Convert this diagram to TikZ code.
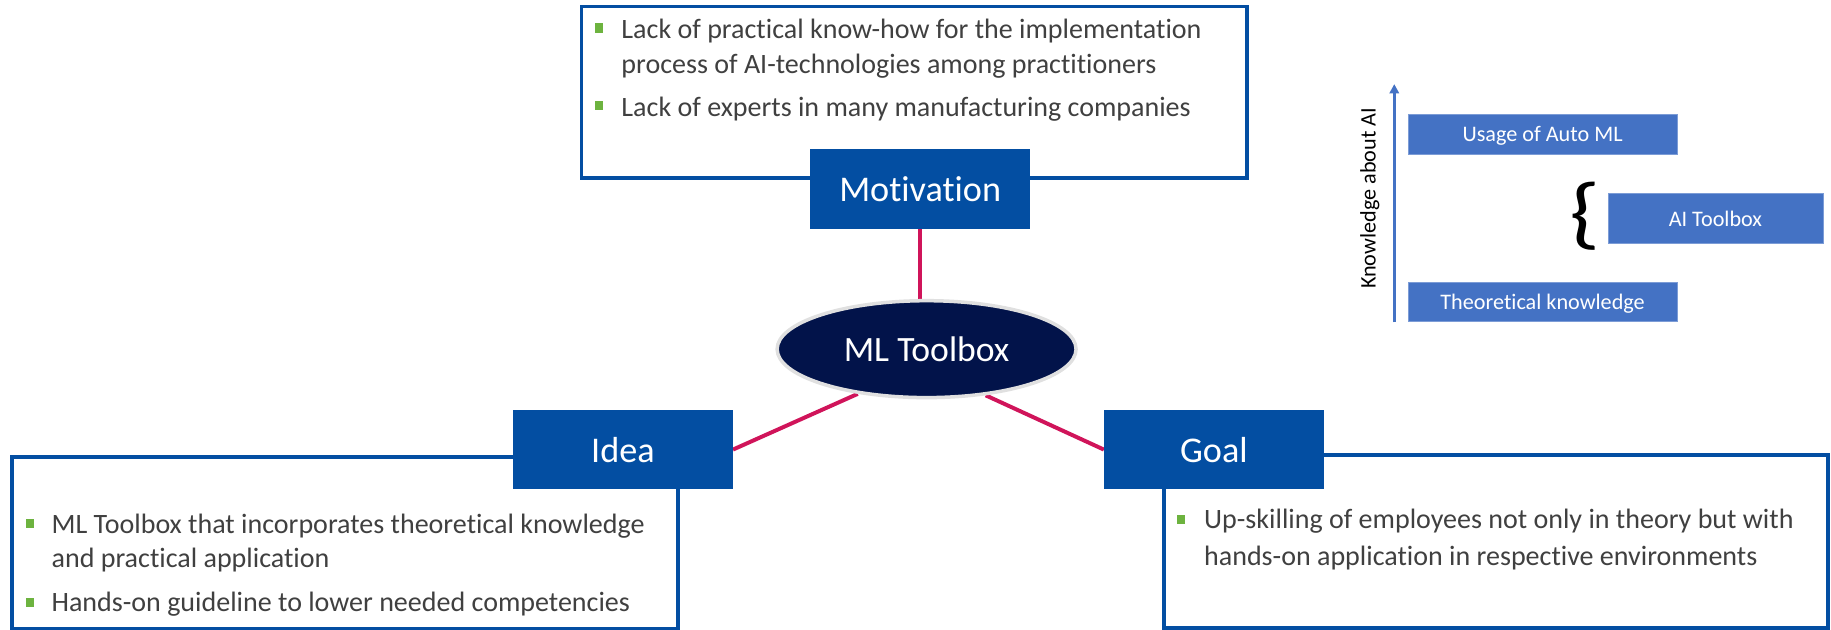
\documentclass[tikz,border=0pt]{standalone}
\usepackage{fontspec}
\usetikzlibrary{shapes.geometric,arrows.meta,backgrounds}
\setmainfont{Carlito}[Ligatures=CommonOff]
\definecolor{navy}{HTML}{034EA2}
\definecolor{deep}{HTML}{02134A}
\definecolor{crim}{HTML}{D0145A}
\definecolor{mid}{HTML}{4472C4}
\definecolor{leaf}{HTML}{6DB33F}
\definecolor{ink}{HTML}{404040}
\tikzset{
  panel/.style={draw=navy,line width=3.2pt,fill=white,inner sep=0pt},
  head/.style={fill=navy,text=white,inner sep=0pt,minimum width=188pt,minimum height=68pt,text depth=0pt,font=\fontsize{31}{33}\selectfont},
  tag/.style={fill=mid,draw=mid!70!white,line width=.6pt,text=white,inner sep=0pt,text depth=0pt,font=\fontsize{19}{21}\selectfont},
  body/.style={anchor=base west,inner sep=0pt,text=ink,font=\fontsize{24}{26}\selectfont},
  dot/.style={fill=leaf,inner sep=0pt,minimum width=7pt,minimum height=8pt},
  link/.style={draw=crim,line width=3.4pt}
}
\begin{document}
\begin{tikzpicture}[x=1pt,y=-1pt]
\useasboundingbox (0,0) rectangle (1568,539.5);
% panels
\node[panel,minimum width=570pt,minimum height=147pt] (mpanel) at (783,79) {};
\node[panel,minimum width=570pt,minimum height=147pt] (ipanel) at (295.5,465) {};
\node[panel,minimum width=569pt,minimum height=148pt] (gpanel) at (1281,463.5) {};
% nodes
\node[head] (motivation) at (788,162) {Motivation};
\node[head] (idea) at (533.5,385) {Idea};
\node[head] (goal) at (1039.5,385) {Goal};
\node[ellipse,fill=deep,draw=black!12,line width=3pt,minimum width=256pt,minimum height=83pt,inner sep=0pt,text=white,font=\fontsize{30.5}{32}\selectfont] (hub) at (793.5,299) {ML Toolbox};
% connectors
\begin{scope}[on background layer]
\draw[link] (motivation.south) -- (motivation.south |- hub.north);
\draw[link] (idea.east) -- (hub.213);
\draw[link] (goal.west) -- (hub.322);
\end{scope}
% motivation text
\node[dot] (b1) at (513,24) {};
\node[body] (t1) at (532,33) {Lack of practical know-how for the implementation};
\node[body] (t2) at (532,63) {process of AI-technologies among practitioners};
\node[dot] (b2) at (513,90.5) {};
\node[body] (t3) at (532,100) {Lack of experts in many manufacturing companies};
% idea text
\node[dot] (b3) at (26,448.5) {};
\node[body] (t4) at (44,457) {ML Toolbox that incorporates theoretical knowledge};
\node[body] (t5) at (44,486) {and practical application};
\node[dot] (b4) at (26,516) {};
\node[body] (t6) at (44,524) {Hands-on guideline to lower needed competencies};
% goal text
\node[dot] (b5) at (1011,445) {};
\node[body] (t7) at (1031,453) {Up-skilling of employees not only in theory but with};
\node[body] (t8) at (1031,484) {hands-on application in respective environments};
% right part
\node[tag,minimum width=230pt,minimum height=34pt] (usage) at (1321,115) {Usage of Auto ML};
\node[tag,minimum width=184pt,minimum height=42pt] (aitool) at (1469,187) {AI Toolbox};
\node[tag,minimum width=230pt,minimum height=33pt] (theory) at (1321,258.5) {Theoretical knowledge};
\coordinate (axb) at (1194,276);
\coordinate (axt) at (1194,72);
\draw[mid,line width=2.4pt,-{Triangle[length=8pt,width=8pt]}] (axb) -- (axt);
\node[rotate=90,inner sep=0pt,text=black,font=\fontsize{19}{21}\selectfont] (know) at (1173,170) {Knowledge about AI};
\node[inner sep=0pt,xscale=1.25,text=black,font=\fontsize{68}{70}\selectfont] (brace) at (1357.5,185) {\{};
\end{tikzpicture}
\end{document}
